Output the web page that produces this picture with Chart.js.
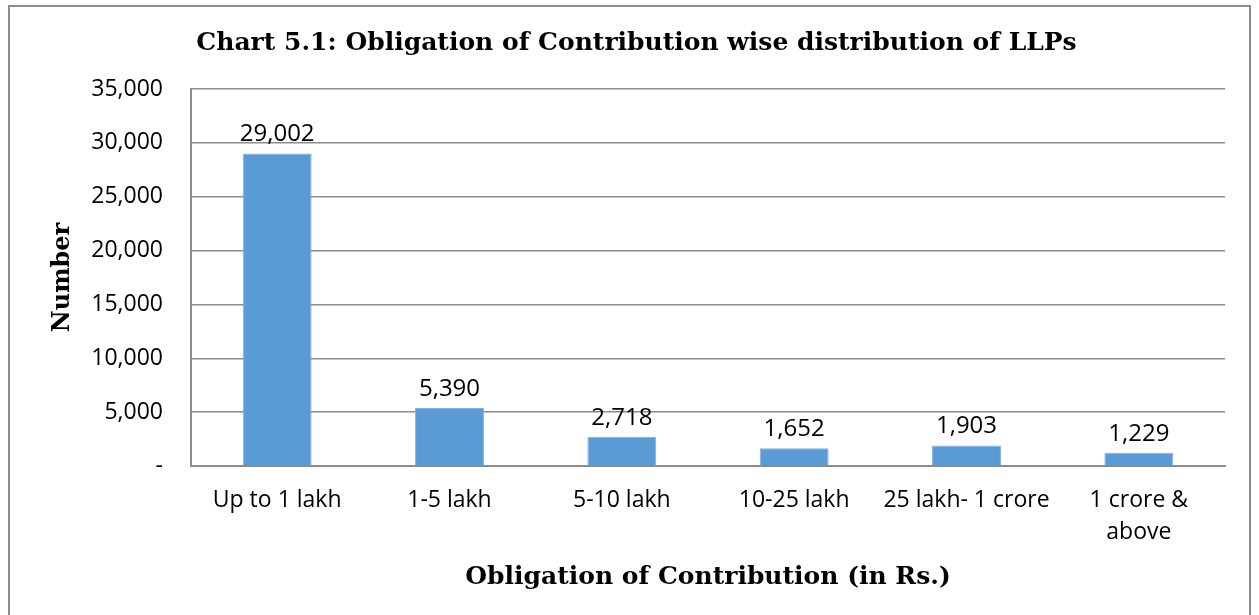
<!DOCTYPE html>
<html>
<head>
<meta charset="utf-8">
<script src="https://cdn.jsdelivr.net/npm/chart.js@4.4.0/dist/chart.umd.min.js"></script>
<style>
  html, body { margin: 0; padding: 0; background: #fff; }
  #wrap { position: relative; width: 1259px; height: 615px; overflow: hidden; }
  #frame { position: absolute; left: 8px; top: 5px; width: 1243px; height: 640px; border: 2px solid #8c8c8c; box-sizing: border-box; }
  canvas { position: absolute; left: 0; top: 0; }
</style>
</head>
<body>
<div id="wrap">
  <div id="frame"></div>
  <canvas id="grafico" width="1259" height="615"></canvas>
</div>
<script>
// datos del grafico
const categorias = ['Up to 1 lakh', '1-5 lakh', '5-10 lakh', '10-25 lakh', '25 lakh- 1 crore', ['1 crore &', 'above']]
const numeroLLPs = [29002, 5390, 2718, 1652, 1903, 1229]
const ticksY = [0, 5000, 10000, 15000, 20000, 25000, 30000, 35000]

const fuenteTexto = "'Open Sans', 'Liberation Sans', sans-serif"
const fuenteTitulo = "'DejaVu Serif', serif"

// plugin para escribir los valores encima de las barras
const etiquetasBarras = {
    id: 'etiquetasBarras',
    afterDatasetsDraw(chart) {
        const ctx = chart.ctx
        const meta = chart.getDatasetMeta(0)
        ctx.save()
        ctx.font = "24px " + fuenteTexto
        ctx.fillStyle = '#000'
        ctx.textAlign = 'center'
        ctx.textBaseline = 'bottom'
        meta.data.forEach((barra, i) => {
            ctx.fillText(numeroLLPs[i].toLocaleString('en-US'), barra.x, barra.y - 7)
        })
        ctx.restore()
    }
}

const config = {
    type: 'bar',
    data: {
        labels: categorias,
        datasets: [{
            label: 'Number',
            data: numeroLLPs,
            backgroundColor: '#5b9bd5',
            borderColor: '#7fb2e0',
            borderWidth: 1,
            barPercentage: 0.4,
            categoryPercentage: 1
        }]
    },
    options: {
        responsive: false,
        animation: false,
        layout: { padding: { left: 48, right: 34, top: 8, bottom: 18 } },
        plugins: {
            legend: { display: false },
            tooltip: { enabled: false },
            title: {
                display: true,
                text: 'Chart 5.1: Obligation of Contribution wise distribution of LLPs',
                color: '#000',
                font: { family: fuenteTitulo, size: 25, weight: 'bold' },
                padding: { top: 20, bottom: 31 }
            }
        },
        scales: {
            y: {
                min: 0,
                max: 35000,
                afterBuildTicks: (eje) => { eje.ticks = ticksY.map(v => ({ value: v })) },
                afterFit: (eje) => { eje.width = 143 },
                ticks: {
                    color: '#000',
                    font: { family: fuenteTexto, size: 23 },
                    padding: 28,
                    callback: (v) => v === 0 ? '-' : v.toLocaleString('en-US')
                },
                grid: { color: '#8c8c8c', lineWidth: 1.5, drawTicks: false },
                border: { color: '#8c8c8c', width: 2 },
                title: {
                    display: true,
                    text: 'Number',
                    color: '#000',
                    font: { family: fuenteTitulo, size: 24, weight: 'bold' },
                    padding: 0
                }
            },
            x: {
                afterFit: (eje) => { eje.height = 131 },
                ticks: {
                    color: '#000',
                    font: { family: fuenteTexto, size: 23, lineHeight: 1.4 },
                    padding: 18,
                    maxRotation: 0,
                    autoSkip: false
                },
                grid: { display: false, drawTicks: false },
                border: { color: '#8c8c8c', width: 2 },
                title: {
                    display: true,
                    text: 'Obligation of Contribution (in Rs.)',
                    color: '#000',
                    font: { family: fuenteTitulo, size: 25, weight: 'bold' },
                    padding: { top: 0, bottom: 5 }
                }
            }
        }
    },
    plugins: [etiquetasBarras]
}

const miGrafico = new Chart(document.getElementById('grafico'), config)
</script>
</body>
</html>
